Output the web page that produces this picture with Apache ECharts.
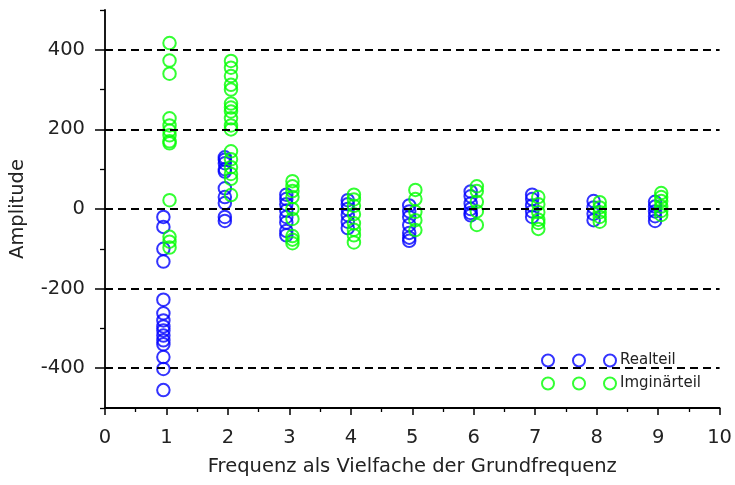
<!DOCTYPE html>
<html>
<head>
<meta charset="utf-8">
<script src="https://cdn.jsdelivr.net/npm/echarts@6/dist/echarts.min.js"></script>
<style>html,body{margin:0;padding:0;background:#fff;}#c{width:735px;height:485px;}</style>
</head>
<body>
<div id="c"></div>
<script>
const harmonics = [1, 2, 3, 4, 5, 6, 7, 8, 9];
const realteil = [
  [-20, -45, -100, -132, -228, -262, -280, -295, -305, -318, -330, -340, -372, -402, -455],
  [130, 124, 115, 100, 94, 52, 30, 15, -20, -30],
  [36, 25, 12, -4, -20, -34, -55, -66],
  [22, 12, 0, -15, -32, -48],
  [9, -6, -20, -40, -60, -72, -80],
  [44, 32, 14, 0, -10, -16],
  [36, 25, 9, -6, -20],
  [20, 4, -12, -28],
  [18, 6, -6, -18, -30]
];
const imaginaerteil = [
  [417, 373, 340, 228, 210, 197, 185, 170, 165, 22, -70, -82, -97],
  [372, 355, 334, 312, 300, 265, 255, 245, 228, 210, 200, 145, 125, 105, 88, 76, 35],
  [70, 57, 45, 30, 0, -25, -68, -77, -86],
  [36, 24, 8, -13, -36, -52, -66, -84],
  [48, 25, -7, -28, -53],
  [57, 45, 18, -6, -40],
  [30, 12, -8, -27, -35, -50],
  [17, 4, -8, -20, -32],
  [40, 30, 20, 6, -5, -15]
];
const yMajorTicks = [-400, -200, 0, 200, 400];
const yMinorTicks = [-500, -300, -100, 100, 300, 500];
const gridValues = [-400, -200, 0, 200, 400];

const off = 0.05;
function pts(arr, dx) {
  const out = [];
  arr.forEach((vals, i) => vals.forEach(v => out.push([harmonics[i] + dx, v])));
  return out;
}
const threeCircles = 'path://M0,6a6,6 0 1,0 12,0a6,6 0 1,0 -12,0M31,6a6,6 0 1,0 12,0a6,6 0 1,0 -12,0M62,6a6,6 0 1,0 12,0a6,6 0 1,0 -12,0';
const font = 'DejaVu Sans';
const fs = 19.5;
const chart = echarts.init(document.getElementById('c'));
chart.setOption({
  animation: false,
  backgroundColor: '#fff',
  textStyle: {fontFamily: font},
  grid: {left: 104, right: 14, top: 10, bottom: 77, containLabel: false},
  legend: {
    orient: 'vertical', left: 536, top: 348, itemWidth: 74, itemHeight: 12, itemGap: 8,
    textStyle: {fontFamily: font, fontSize: 15, color: '#222', padding: [0, 0, 0, -1]},
    data: [{name: 'Realteil', icon: threeCircles}, {name: 'Imginärteil', icon: threeCircles}]
  },
  xAxis: {
    type: 'value', min: 0, max: 10, interval: 1,
    name: 'Frequenz als Vielfache der Grundfrequenz', nameLocation: 'middle', nameGap: 49,
    nameTextStyle: {fontFamily: font, fontSize: fs, color: '#222'},
    axisLine: {onZero: false, lineStyle: {color: '#000', width: 1.8}},
    axisTick: {show: true, length: 7, lineStyle: {color: '#000', width: 1.5}},
    minorTick: {show: true, splitNumber: 2, length: 4, lineStyle: {color: '#000', width: 1.3}},
    axisLabel: {fontFamily: font, fontSize: fs, color: '#222', margin: 20},
    splitLine: {show: false}
  },
  yAxis: [{
    type: 'value', min: -500, max: 500, interval: 100,
    name: 'Amplitude', nameLocation: 'middle', nameGap: 77,
    nameTextStyle: {fontFamily: font, fontSize: fs, color: '#222'},
    axisLine: {show: true, lineStyle: {color: '#000', width: 1.8}},
    axisTick: {show: true, length: 10, customValues: yMajorTicks, lineStyle: {color: '#000', width: 1.5}},
    axisLabel: {fontFamily: font, fontSize: fs, color: '#222', margin: 20, customValues: yMajorTicks},
    splitLine: {show: false}
  }, {
    type: 'value', min: -500, max: 500, interval: 100, position: 'left',
    axisLine: {show: false},
    axisTick: {show: true, length: 5, customValues: yMinorTicks, lineStyle: {color: '#000', width: 1.3}},
    axisLabel: {show: false},
    splitLine: {show: false}
  }],
  series: [{
    name: 'Realteil', type: 'scatter', symbol: 'circle', symbolSize: 12.5,
    itemStyle: {color: 'rgba(0,0,0,0)', borderColor: '#0000ff', borderWidth: 2},
    data: pts(realteil, -off),
    markLine: {
      silent: true, symbol: 'none', label: {show: false},
      lineStyle: {color: '#000', type: [8, 5], width: 1.8},
      data: gridValues.map(v => ({yAxis: v}))
    },
    z: 2
  }, {
    name: 'Imginärteil', type: 'scatter', symbol: 'circle', symbolSize: 12.5,
    itemStyle: {color: 'rgba(0,0,0,0)', borderColor: '#00ff00', borderWidth: 2},
    data: pts(imaginaerteil, off),
    z: 3
  }]
});
</script>
</body>
</html>
